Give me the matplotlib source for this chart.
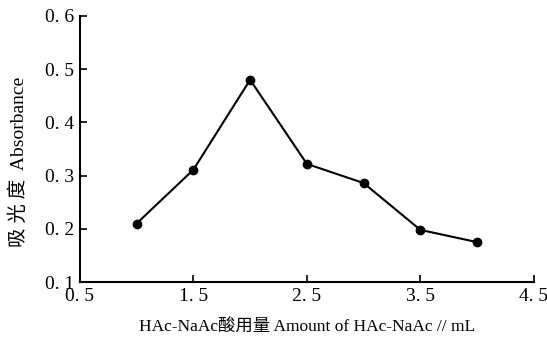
import matplotlib
matplotlib.use('Agg')
import matplotlib.pyplot as plt

# datos
volumen = [1.0, 1.5, 2.0, 2.5, 3.0, 3.5, 4.0]
absorbancia = [0.21, 0.311, 0.48, 0.322, 0.286, 0.198, 0.175]
x_ticks = [0.5, 1.5, 2.5, 3.5, 4.5]
y_ticks = [0.1, 0.2, 0.3, 0.4, 0.5, 0.6]

plt.rcParams['font.family'] = ['Liberation Serif', 'Noto Sans CJK SC']

fig = plt.figure(figsize=(5.47, 3.39), dpi=100)
ax = fig.add_axes([0.146, 0.168, 0.83, 0.785])

ax.plot(volumen, absorbancia, color='black', lw=1.5, marker='o', ms=6)

ax.set_xlim(0.5, 4.5)
ax.set_ylim(0.1, 0.6)
ax.set_xticks(x_ticks)
ax.set_xticklabels([f'{v:.1f}'.replace('.', '. ') for v in x_ticks])
ax.set_yticks(y_ticks)
ax.set_yticklabels([f'{v:.1f}'.replace('.', '. ') for v in y_ticks])
ax.tick_params(direction='in', length=5, width=1.2, labelsize=14, pad=4)

for lado in ['top', 'right']:
    ax.spines[lado].set_visible(False)
for lado in ['left', 'bottom']:
    ax.spines[lado].set_linewidth(1.5)

ax.set_xlabel('HAc-NaAc酸用量 Amount of HAc-NaAc // mL', fontsize=12.5, labelpad=10)
ax.set_ylabel('吸 光 度  Absorbance', fontsize=14)
ax.yaxis.set_label_coords(-0.115, 0.45)

fig.savefig('out.png', dpi=100)
